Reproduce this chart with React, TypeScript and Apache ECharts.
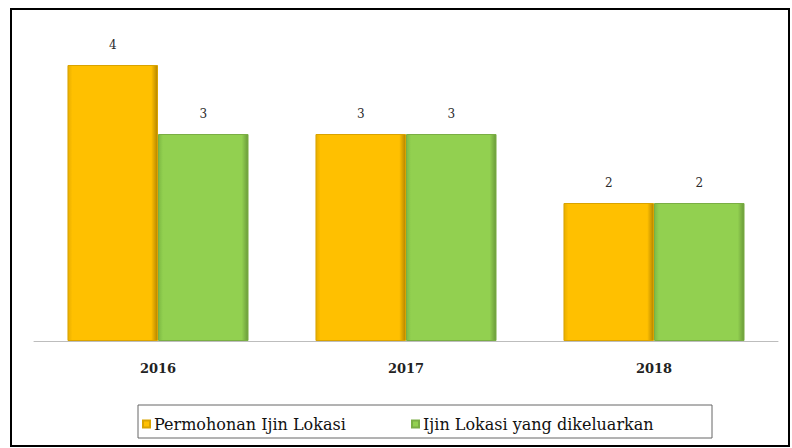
import React, { useEffect, useRef } from "react";
import * as echarts from "echarts";

const categories = ["2016", "2017", "2018"];
const permohonan = [4, 3, 2];
const dikeluarkan = [3, 3, 2];
const seriesNames = ["Permohonan Ijin Lokasi", "Ijin Lokasi yang dikeluarkan"];

const FONT = "'DejaVu Serif', 'Liberation Serif', serif";

function hGrad(edgeL: string, main: string, edgeR: string) {
  return new echarts.graphic.LinearGradient(0, 0, 1, 0, [
    { offset: 0, color: edgeL },
    { offset: 0.05, color: main },
    { offset: 0.93, color: main },
    { offset: 1, color: edgeR },
  ]);
}

export default function App() {
  const ref = useRef<HTMLDivElement>(null);
  useEffect(() => {
    const chart = echarts.init(ref.current!, undefined, { renderer: "svg" });
    const label = {
      show: true,
      position: "top",
      distance: 14,
      color: "#2a2a2a",
      fontFamily: FONT,
      fontSize: 12,
      fontWeight: "normal",
    };
    const legendText = { fontFamily: FONT, fontSize: 16, color: "#111", padding: [0, 0, 0, -1] };
    chart.setOption({
      animation: false,
      backgroundColor: "#fff",
      grid: { left: 34, right: 14, top: 65, bottom: 107 },
      xAxis: {
        type: "category",
        data: categories,
        axisLine: { lineStyle: { color: "#bdbdbd", width: 1 } },
        axisTick: { show: false },
        axisLabel: {
          margin: 21,
          color: "#222",
          fontFamily: FONT,
          fontSize: 13,
          fontWeight: "bold",
        },
      },
      yAxis: { type: "value", min: 0, max: 4, show: false, splitLine: { show: false } },
      legend: [
        {
          data: [seriesNames[0]],
          left: 137,
          top: 411,
          itemWidth: 7,
          itemHeight: 7,
          icon: "rect",
          textStyle: legendText,
        },
        {
          data: [seriesNames[1]],
          left: 406,
          top: 411,
          itemWidth: 7,
          itemHeight: 7,
          icon: "rect",
          textStyle: legendText,
        },
      ],
      graphic: [
        {
          type: "rect",
          shape: { x: 11, y: 9, width: 778, height: 437 },
          style: { fill: "none", stroke: "#000", lineWidth: 2 },
          silent: true,
        },
        {
          type: "rect",
          shape: { x: 138, y: 405, width: 574, height: 33 },
          style: { fill: "none", stroke: "#666", lineWidth: 1 },
          silent: true,
        },
      ],
      series: [
        {
          name: seriesNames[0],
          type: "bar",
          data: permohonan,
          barGap: "0%",
          barCategoryGap: "27%",
          color: "#FFC000",
          itemStyle: {
            color: hGrad("#E8AE00", "#FFC000", "#B58600"),
            borderColor: "#D9A300",
            borderWidth: 1,
          },
          label,
        },
        {
          name: seriesNames[1],
          type: "bar",
          data: dikeluarkan,
          color: "#92D050",
          itemStyle: {
            color: hGrad("#7DBA44", "#92D050", "#6A9A3A"),
            borderColor: "#7AAE44",
            borderWidth: 1,
          },
          label,
        },
      ],
    });
    return () => chart.dispose();
  }, []);
  return (
    <div style={{ position: "absolute", left: 0, top: 0, width: 792, height: 448 }}>
      <div ref={ref} style={{ width: 792, height: 448 }} />
    </div>
  );
}
